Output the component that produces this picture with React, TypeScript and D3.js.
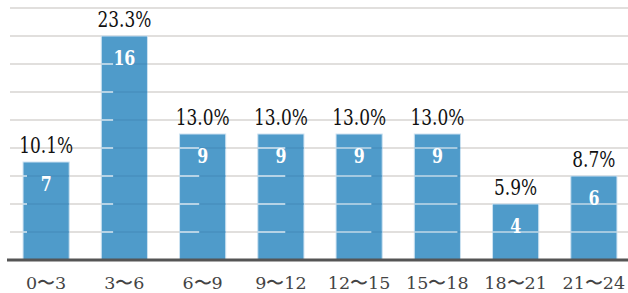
import { scaleBand, scaleLinear, range } from "d3";

const categories = ["0〜3", "3〜6", "6〜9", "9〜12", "12〜15", "15〜18", "18〜21", "21〜24"];
const counts = [7, 16, 9, 9, 9, 9, 4, 6];
const percents = ["10.1%", "23.3%", "13.0%", "13.0%", "13.0%", "13.0%", "5.9%", "8.7%"];
const gridValues = range(2, 19, 2);

const width = 628;
const height = 293;
const serif = "'DejaVu Serif', serif";

export default function App() {
  const x = scaleBand<string>()
    .domain(categories)
    .range([7, 633])
    .paddingInner(0.41)
    .paddingOuter(0.205);
  const y = scaleLinear().domain([0, 18]).range([260, 8]);
  const bw = x.bandwidth();

  return (
    <svg
      width={width}
      height={height}
      style={{ position: "absolute", left: 0, top: 0, background: "#fff", fontFamily: serif }}
    >
      {/* grid */}
      {gridValues.map((v) => (
        <line key={v} x1={10} x2={width} y1={y(v)} y2={y(v)} stroke="#c4bfbc" strokeWidth={1.2} />
      ))}

      {/* bars */}
      {counts.map((c, i) => (
        <rect
          key={categories[i]}
          x={x(categories[i])}
          y={y(c)}
          width={bw}
          height={y(0) - y(c)}
          fill="#4f9bca"
          stroke="#cde2f1"
          strokeWidth={1}
        />
      ))}

      {/* grid lines showing through bars */}
      {counts.map((c, i) =>
        gridValues
          .filter((v) => v < c)
          .map((v) => (
            <g key={`${i}-${v}`}>
              <line
                x1={x(categories[i])!}
                x2={x(categories[i])! + bw}
                y1={y(v)}
                y2={y(v)}
                stroke="#4589b8"
                strokeWidth={1}
              />
              <line
                x1={x(categories[i])!}
                x2={x(categories[i])! + Math.min(bw, 4 + i * x.step() * 0.1)}
                y1={y(v)}
                y2={y(v)}
                stroke="#ffffff"
                strokeWidth={1.2}
              />
            </g>
          ))
      )}

      {/* axis */}
      <line x1={7} x2={width} y1={y(0)} y2={y(0)} stroke="#555" strokeWidth={3} />

      {/* value labels */}
      {counts.map((c, i) => (
        <text
          key={`n-${i}`}
          x={x(categories[i])! + bw / 2}
          y={y(c) + 29}
          textAnchor="middle"
          fontSize={20}
          fontWeight="bold"
          fill="#fff"
          textLength={String(c).length * 11}
          lengthAdjust="spacingAndGlyphs"
        >
          {c}
        </text>
      ))}
      {percents.map((p, i) => (
        <text
          key={`p-${i}`}
          x={x(categories[i])! + bw / 2}
          y={y(counts[i]) - 9}
          textAnchor="middle"
          fontSize={22}
          fill="#111"
          textLength={p.length * 10.8}
          lengthAdjust="spacingAndGlyphs"
        >
          {p}
        </text>
      ))}

      {/* x labels */}
      {categories.map((cat) => (
        <text
          key={cat}
          x={x(cat)! + bw / 2}
          y={289}
          textAnchor="middle"
          fontSize={17.5}
          fill="#444"
        >
          {cat}
        </text>
      ))}
    </svg>
  );
}
